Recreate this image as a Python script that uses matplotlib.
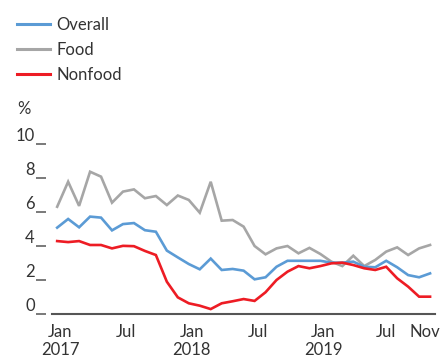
import matplotlib
matplotlib.use("Agg")
import matplotlib.pyplot as plt
from matplotlib.lines import Line2D
import matplotlib.transforms as mtransforms

plt.rcParams['font.family'] = ['Lato', 'DejaVu Sans']

months = list(range(35))  # Jan 2017 .. Nov 2019
overall = [5.05, 5.56, 5.07, 5.7, 5.64, 4.89, 5.26, 5.32, 4.9, 4.81, 3.7, 3.3,
           2.91, 2.6, 3.23, 2.56, 2.62, 2.52, 2.01, 2.13, 2.75, 3.1, 3.1, 3.1,
           3.1, 2.99, 2.99, 3.05, 2.75, 2.72, 3.1, 2.72, 2.26, 2.13, 2.36]
food = [6.28, 7.75, 6.33, 8.34, 8.05, 6.52, 7.17, 7.3, 6.78, 6.91, 6.38, 6.94,
        6.68, 5.93, 7.75, 5.46, 5.5, 5.11, 3.97, 3.48, 3.83, 3.97, 3.54, 3.86,
        3.5, 3.05, 2.79, 3.4, 2.79, 3.15, 3.64, 3.89, 3.44, 3.83, 4.03]
nonfood = [4.26, 4.2, 4.26, 4.03, 4.03, 3.83, 3.98, 3.96, 3.68, 3.44, 1.87, 0.95,
           0.6, 0.46, 0.26, 0.6, 0.72, 0.85, 0.74, 1.25, 1.97, 2.46, 2.79, 2.66,
           2.79, 2.95, 2.99, 2.85, 2.66, 2.56, 2.75, 2.07, 1.58, 0.99, 0.99]

xtick_pos = [0, 6, 12, 18, 24, 30, 34]
xtick_labels = ["Jan\n2017", "Jul", "Jan\n2018", "Jul", "Jan\n2019", "Jul", "Nov"]
yticks = [0, 2, 4, 6, 8, 10]

c_overall = '#5b9bd5'
c_food = '#a6a6a6'
c_nonfood = '#ed1c24'
c_text = '#333333'
c_axis = '#555555'

fig = plt.figure(figsize=(4.41, 3.58), dpi=100)
ax = fig.add_axes([0.1172, 0.1243, 0.8692, 0.4986])

lw = 1.9
ax.plot(months, food, color=c_food, lw=lw, solid_joinstyle='miter')
ax.plot(months, overall, color=c_overall, lw=lw, solid_joinstyle='miter')
ax.plot(months, nonfood, color=c_nonfood, lw=lw, solid_joinstyle='miter')

ax.set_xlim(-0.5, 34.45)
ax.set_ylim(0, 10.5)

for s in ['top', 'right']:
    ax.spines[s].set_visible(False)
ax.spines['left'].set_position(('outward', 4))
ax.spines['left'].set_visible(False)
ax.spines['bottom'].set_color(c_axis)
ax.spines['bottom'].set_linewidth(1.5)

ax.set_xticks([])
xtrans = mtransforms.blended_transform_factory(ax.transData, ax.transAxes)
for pos, lab in zip(xtick_pos, xtick_labels):
    dx = 3 if pos < 30 else (0 if pos == 30 else -5)
    ax.annotate(lab, xy=(pos, 0), xycoords=xtrans,
                xytext=(dx, -10), textcoords='offset pixels',
                ha='center', va='top', fontsize=12, color=c_text,
                linespacing=1.2, annotation_clip=False)

ax.set_yticks(yticks)
ax.set_yticklabels([])
ax.tick_params(axis='y', length=7.2, width=1.1, color=c_axis, direction='out')
for v in yticks:
    ax.annotate(str(v), xy=(0, v), xycoords=('axes fraction', 'data'),
                xytext=(-17, 3), textcoords='offset pixels',
                ha='right', va='baseline', fontsize=12, color=c_text,
                annotation_clip=False)

fig.text(17 / 441, 1 - 109 / 358, '%', fontsize=12, color=c_text,
         ha='left', va='center')

handles = [Line2D([], [], color=c_overall, lw=2.2),
           Line2D([], [], color=c_food, lw=2.2),
           Line2D([], [], color=c_nonfood, lw=2.2)]
leg = fig.legend(handles, ['Overall', 'Food', 'Nonfood'],
                 loc='upper left', bbox_to_anchor=(0.0, 1.0),
                 frameon=False, fontsize=12, handlelength=2.0,
                 handletextpad=0.4, labelspacing=0.55, borderpad=0.5)
for t in leg.get_texts():
    t.set_color(c_text)

fig.savefig('out.png', dpi=100)
